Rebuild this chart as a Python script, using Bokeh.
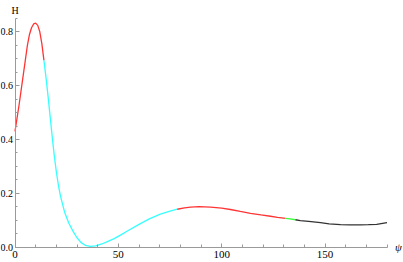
from bokeh.plotting import figure
from bokeh.models import FixedTicker, Range1d, Label, CustomJSTickFormatter
from bokeh.embed import file_html
from bokeh.resources import INLINE

# --- data (psi in degrees, H) ---
red1_psi = [0, 1, 2, 3, 4, 5, 6, 7, 8, 9, 10, 11, 12, 13, 14]
red1_h = [0.43, 0.48, 0.53, 0.585, 0.64, 0.695, 0.75, 0.79, 0.815, 0.829, 0.832, 0.824, 0.80, 0.755, 0.694]

cyan_psi = [14, 15, 16, 17, 18, 19, 20, 21, 22, 24, 26, 28, 30, 32, 34, 36.5, 39, 42, 45, 48, 51, 55, 60, 65, 70, 75, 78.5]
cyan_h = [0.694, 0.63, 0.56, 0.485, 0.41, 0.34, 0.28, 0.23, 0.19, 0.13, 0.09, 0.06, 0.035, 0.017, 0.007, 0.003, 0.005,
          0.012, 0.022, 0.032, 0.045, 0.063, 0.085, 0.105, 0.122, 0.134, 0.141]

red2_psi = [78.5, 82, 85, 89, 94.6, 100, 104.2, 109, 113.9, 119, 123.6, 127, 130.9]
red2_h = [0.141, 0.146, 0.149, 0.151, 0.149, 0.145, 0.140, 0.133, 0.126, 0.120, 0.115, 0.111, 0.107]

green_psi = [130.9, 133, 135.7]
green_h = [0.107, 0.105, 0.102]

black_psi = [135.7, 138.1, 142.1, 147.8, 152, 157.5, 162, 167.2, 171, 175, 180]
black_h = [0.102, 0.099, 0.096, 0.091, 0.087, 0.084, 0.083, 0.083, 0.0835, 0.085, 0.091]

x_major = [0, 50, 100, 150]
x_minor = list(range(0, 181, 10))
y_major = [0.0, 0.2, 0.4, 0.6, 0.8]
y_minor = [round(0.05 * i, 2) for i in range(0, 18)]
x_axis_end = 180
y_axis_end = 0.85

FONT = "Liberation Serif"
AXIS_COL = "#9a9a9a"

p = figure(width=403, height=262, output_backend="svg", toolbar_location=None,
           x_range=Range1d(-7.02, 187.98), y_range=Range1d(-0.0568, 0.9162),
           min_border_left=0, min_border_right=0, min_border_top=0, min_border_bottom=0)

p.outline_line_color = None
p.xgrid.visible = False
p.ygrid.visible = False
p.background_fill_color = "white"
p.border_fill_color = "white"

for ax, maj, mnr, end in ((p.xaxis[0], x_major, x_minor, x_axis_end),
                          (p.yaxis[0], y_major, y_minor, y_axis_end)):
    ax.fixed_location = 0
    ax.ticker = FixedTicker(ticks=maj, minor_ticks=mnr)
    ax.bounds = (0, end)
    ax.axis_line_color = AXIS_COL
    ax.major_tick_line_color = AXIS_COL
    ax.minor_tick_line_color = AXIS_COL
    ax.major_tick_in = 4
    ax.major_tick_out = 0
    ax.minor_tick_in = 2
    ax.minor_tick_out = 0
    ax.major_label_text_font = FONT
    ax.major_label_text_font_size = "10px"
    ax.major_label_text_color = "black"
    ax.major_label_standoff = 2

p.xaxis[0].minor_tick_in = 3
p.xaxis[0].major_label_text_font_size = "11px"
p.xaxis[0].major_label_standoff = 4
p.yaxis[0].formatter = CustomJSTickFormatter(code="return tick.toFixed(1);")

lw = 1.3
p.line(red1_psi, red1_h, line_color="#ff3535", line_width=lw)
p.line(cyan_psi, cyan_h, line_color="#35ffff", line_width=lw)
p.line(red2_psi, red2_h, line_color="#ff3535", line_width=lw)
p.line(green_psi, green_h, line_color="#35ff35", line_width=lw)
p.line(black_psi, black_h, line_color="#333333", line_width=lw)

p.add_layout(Label(x=0, y=y_axis_end, text="H", text_font=FONT, text_font_size="10px",
                   text_color="black", text_align="center", text_baseline="alphabetic", y_offset=8))
p.add_layout(Label(x=x_axis_end, y=0, text="ψ", text_font=FONT, text_font_size="11px",
                   text_color="black", text_font_style="italic", text_align="left",
                   text_baseline="middle", x_offset=8))

open("out.html", "w").write(file_html(p, INLINE))
